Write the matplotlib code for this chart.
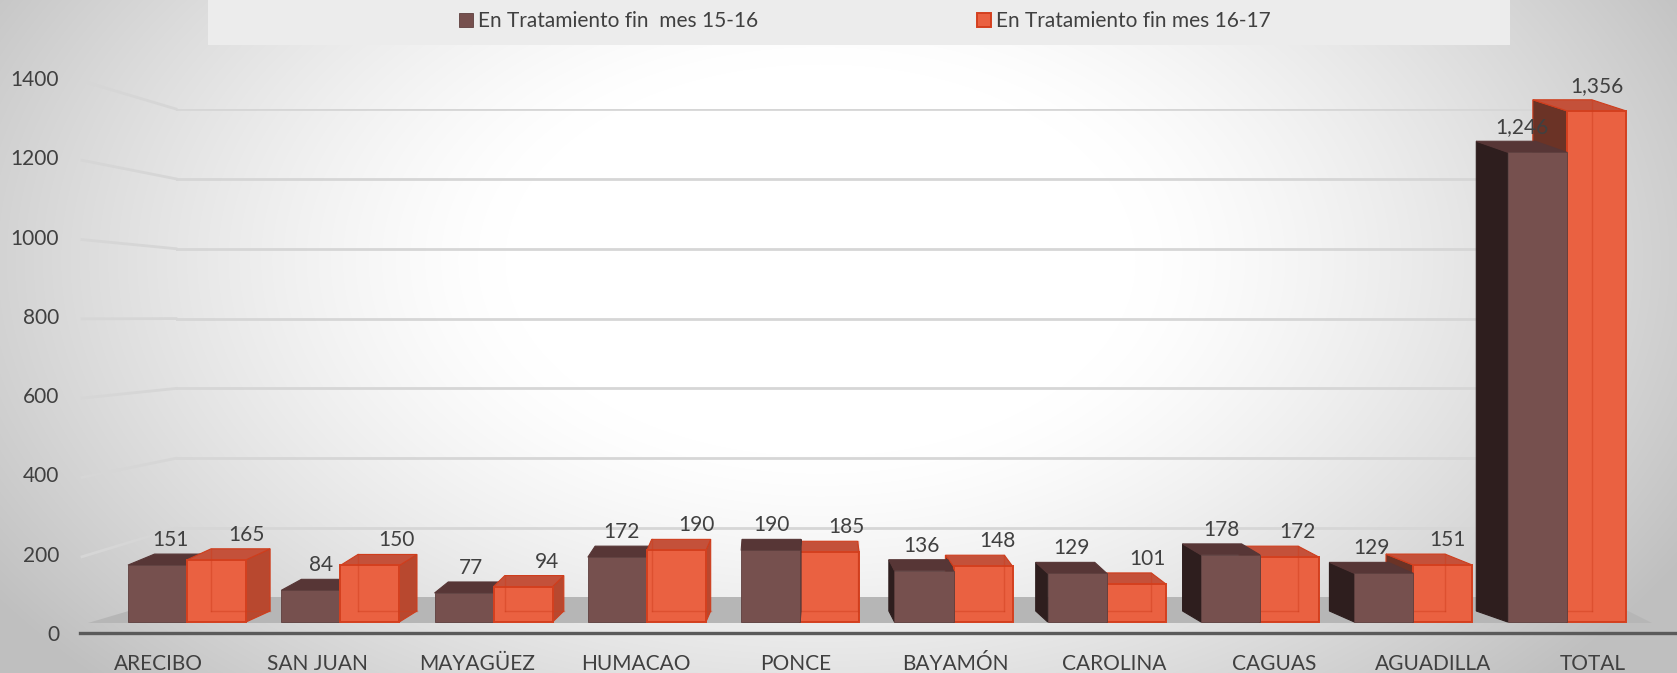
import numpy as np
import matplotlib
matplotlib.use("Agg")
import matplotlib.pyplot as plt
from matplotlib.patches import Polygon, Rectangle
from matplotlib.lines import Line2D
from matplotlib.transforms import IdentityTransform

# Datos
regiones = ['ARECIBO', 'SAN JUAN', 'MAYAGÜEZ', 'HUMACAO', 'PONCE',
            'BAYAMÓN', 'CAROLINA', 'CAGUAS', 'AGUADILLA', 'TOTAL']
mes_15_16 = [151, 84, 77, 172, 190, 136, 129, 178, 129, 1246]
mes_16_17 = [165, 150, 94, 190, 185, 148, 101, 172, 151, 1356]
serie_labels = ['En Tratamiento fin  mes 15-16', 'En Tratamiento fin mes 16-17']
y_ticks = [0, 200, 400, 600, 800, 1000, 1200, 1400]

plt.rcParams['font.family'] = ['Lato', 'DejaVu Sans']
TXT = '#404040'

W, H = 1677, 673
fig = plt.figure(figsize=(W / 100, H / 100), dpi=100)

# fondo con degradado radial
axbg = fig.add_axes([0, 0, 1, 1])
axbg.axis('off')
yy, xx = np.mgrid[0:H, 0:W]
r = np.sqrt(((xx - 820) / 900.0) ** 2 + ((yy - 260) / 560.0) ** 2)
shade = 1 - 0.25 * np.clip((r - 0.35) / 0.75, 0, 1) ** 1.3
axbg.imshow(np.dstack([shade] * 3), extent=[0, W, H, 0], aspect='auto')
axbg.set_xlim(0, W)
axbg.set_ylim(H, 0)
# caja de la leyenda
axbg.add_patch(Rectangle((208, 0), 1302, 45, facecolor='#ececec', edgecolor='none'))


def fy(y_top):
    """fraccion de figura a partir de pixel medido desde arriba"""
    return (H - y_top) / H


# pared del fondo con las lineas de cuadricula
axg = fig.add_axes([176 / W, fy(598), (1604 - 176) / W, (598 - 109) / H])
axg.set_facecolor('none')
axg.set_xlim(0, 1)
axg.set_ylim(0, 1400)
axg.set_yticks(y_ticks[1:])
axg.set_xticks([])
axg.tick_params(length=0, labelleft=False)
axg.grid(axis='y', color='#d6d6d6', lw=2)
for s in axg.spines.values():
    s.set_visible(False)

# piso gris
floor = [(88, H - 623), (176, H - 597), (1600, H - 597), (1652, H - 623)]
axg.add_patch(Polygon(floor, closed=True, facecolor='#b6b6b6', edgecolor='none',
                      transform=IdentityTransform(), clip_on=False))

# eje de etiquetas (frente)
axl = fig.add_axes([80 / W, fy(633), (W - 80) / W, (633 - 78) / H])
axl.set_facecolor('none')
axl.set_ylim(0, 1400)
axl.set_xlim((80 - 158) / 159.4, (W - 158) / 159.4)
axl.set_yticks(y_ticks)
axl.set_xticks(range(len(regiones)))
axl.set_xticklabels(regiones)
axl.tick_params(axis='both', length=0, labelsize=15, colors=TXT)
axl.tick_params(axis='y', pad=15)
axl.tick_params(axis='x', pad=15)
for name, s in axl.spines.items():
    s.set_visible(name == 'bottom')
axl.spines['bottom'].set_color('#5a5a5a')
axl.spines['bottom'].set_linewidth(2.4)

# lineas diagonales de la pared lateral
fig.canvas.draw()
for v in y_ticks[1:]:
    yf = axl.transData.transform((0, v))[1] - 3
    xb, yb = axg.transData.transform((0, v))
    axg.add_line(Line2D([82, xb], [yf, yb], color='#d6d6d6', lw=2,
                        transform=IdentityTransform(), clip_on=False))

# barras
ax = fig.add_axes([0, 0, 1, 1])
ax.set_facecolor('none')
ax.axis('off')
ax.set_xlim(-187 / 153.3, (W - 187) / 153.3)
ax.set_ylim(-51 / 0.377, (H - 51) / 0.377)

x = np.arange(len(regiones))
bw = 0.385
brown, orange = '#76504e', '#ea6141'
b1 = ax.bar(x - bw / 2, mes_15_16, bw, color=brown, edgecolor='#5e3f3e', lw=0.6,
            label=serie_labels[0])
b2 = ax.bar(x + bw / 2, mes_16_17, bw, color=orange, edgecolor='#d4401f', lw=1.4,
            label=serie_labels[1])

fig.canvas.draw()
to_disp = ax.transData.transform
to_data = ax.transData.inverted().transform
VX, T, DY = 790.0, 0.042, 11.0


def box_faces(rect, top_c, side_r, side_l, z, hidden=None):
    (x0, y0), (x1, y1) = to_disp([(rect.get_x(), 0),
                                  (rect.get_x() + rect.get_width(), rect.get_height())])
    dx = T * (VX - (x0 + x1) / 2)
    top = [(x0, y1), (x1, y1), (x1 + dx, y1 + DY), (x0 + dx, y1 + DY)]
    if dx >= 0:
        side = [(x1, y0), (x1, y1), (x1 + dx, y1 + DY), (x1 + dx, y0 + DY)]
        sc = side_r
    else:
        side = [(x0, y0), (x0, y1), (x0 + dx, y1 + DY), (x0 + dx, y0 + DY)]
        sc = side_l
    for pts, c in ((side, sc), (top, top_c)):
        ax.add_patch(Polygon(to_data(pts), closed=True, facecolor=c,
                             edgecolor=hidden or c, lw=0.8, zorder=z - 0.2))
    if hidden:
        bx = x0 + dx if dx >= 0 else x1 + dx
        for seg in ([(x0 + dx, y0 + DY), (x1 + dx, y0 + DY)],
                    [(bx, y0 + DY), (bx, y1 + DY)]):
            p = to_data(seg)
            ax.plot(p[:, 0], p[:, 1], color=hidden, lw=1, alpha=0.45, zorder=z + 0.1)
    rect.set_zorder(z)
    return (x0 + x1) / 2, y1, dx


for i in range(len(regiones)):
    left_half = T * (VX - to_disp((x[i], 0))[0]) >= 0
    zb, zo = (2, 3) if left_half else (3, 2)
    cb, tb, dxb = box_faces(b1[i], '#573636', '#4a3030', '#2e1e1e', zb)
    co, to, dxo = box_faces(b2[i], '#c4513a', '#b8482f', '#6b3326', zo, hidden='#cf3d1c')
    for cx, ty, dx, v, off in ((cb, tb, dxb, mes_15_16[i], 0),
                               (co, to, dxo, mes_16_17[i], 18)):
        px, py = to_data([(cx + 0.5 * dx + off, ty + DY + 14)])[0]
        ax.text(px, py, f'{v:,}', ha='center', va='center', fontsize=15,
                color=TXT, zorder=10)

fig.legend(handles=[b1, b2], labels=serie_labels, loc='center',
           bbox_to_anchor=(865 / W, fy(21)), ncol=2, frameon=False,
           fontsize=15, labelcolor=TXT, handlelength=0.65, handleheight=0.65,
           handletextpad=0.25, columnspacing=10.5)

fig.savefig('out.png', dpi=100)
